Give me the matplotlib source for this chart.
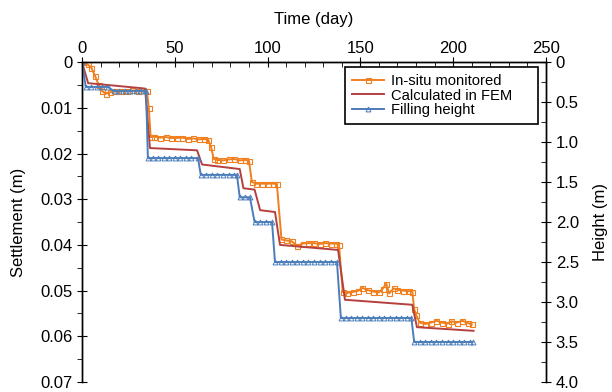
import matplotlib.pyplot as plt
from matplotlib.ticker import MultipleLocator, FixedLocator, FixedFormatter

plt.rcParams['font.family'] = ['Liberation Sans', 'DejaVu Sans']

# in-situ monitored settlement (m)
obs_day = [0, 3, 5, 7, 9, 11, 13, 15, 18, 21, 24, 27, 30, 33, 35, 36, 37, 39, 42, 45, 48, 51, 54, 57,
           60, 63, 66, 68, 69.5, 71, 73, 76, 79, 82, 85, 88, 90, 91.5, 94, 97, 100, 103, 105, 107.5,
           110, 113, 116, 119, 122, 125, 128, 131, 134, 137, 138.5, 140.5, 143, 146, 149, 151, 154,
           157, 160, 162, 164, 165.5, 168, 170, 173, 176, 178, 179, 180, 182, 185, 188, 191, 194,
           197, 199, 202, 205, 208, 210]
obs_set = [0, 0.0005, 0.0012, 0.003, 0.005, 0.0064, 0.0069, 0.0066, 0.0064, 0.0064, 0.0063, 0.0062,
           0.0063, 0.0062, 0.0064, 0.0100, 0.0164, 0.0163, 0.0165, 0.0164, 0.0166, 0.0166, 0.0165,
           0.0168, 0.0167, 0.0169, 0.0168, 0.0170, 0.0185, 0.0212, 0.0214, 0.0215, 0.0213, 0.0212,
           0.0215, 0.0214, 0.0216, 0.0262, 0.0266, 0.0266, 0.0266, 0.0266, 0.0266, 0.0388, 0.0390,
           0.0392, 0.0402, 0.0397, 0.0396, 0.0396, 0.0398, 0.0396, 0.0397, 0.0397, 0.0400, 0.0503,
           0.0505, 0.0503, 0.0500, 0.0494, 0.0499, 0.0502, 0.0504, 0.0496, 0.0485, 0.0506, 0.0495,
           0.0498, 0.0500, 0.0501, 0.0502, 0.0540, 0.0553, 0.0570, 0.0573, 0.0570, 0.0566, 0.0570,
           0.0572, 0.0567, 0.0570, 0.0566, 0.0571, 0.0574]

# FEM settlement (m)
fem_day = [0, 3.3, 32, 34, 36.6, 62, 64.7, 85, 87, 93, 96, 104, 106.7, 138, 141.7, 178, 180.5, 211]
fem_set = [0, 0.0046, 0.0057, 0.0058, 0.0188, 0.0193, 0.0224, 0.0234, 0.0276, 0.0279, 0.0324,
           0.0328, 0.0400, 0.0411, 0.0520, 0.0531, 0.0580, 0.0588]

# filling height (m)
fill_day = [0, 2, 5, 8, 11, 14, 17, 20, 23, 26, 29, 32, 34.5, 35.5, 38, 41, 44, 47, 50, 53, 56, 59,
            62.5, 64, 67, 70, 73, 76, 79, 82, 83.5, 85, 88, 90.5, 93, 96, 99, 102.4, 104, 107, 110,
            113, 116, 119, 122, 125, 128, 131, 134, 137.4, 139.5, 142, 145, 148, 151, 154, 157, 160,
            163, 166, 169, 172, 175, 177.5, 179, 182, 185, 188, 191, 194, 197, 200, 203, 206, 209, 210.5]
fill_h = [0, 0.31, 0.31, 0.31, 0.31, 0.31, 0.36, 0.36, 0.36, 0.36, 0.36, 0.36, 0.36, 1.2, 1.2, 1.2,
          1.2, 1.2, 1.2, 1.2, 1.2, 1.2, 1.2, 1.41, 1.41, 1.41, 1.41, 1.41, 1.41, 1.41, 1.41, 1.69,
          1.69, 1.69, 2.0, 2.0, 2.0, 2.0, 2.5, 2.5, 2.5, 2.5, 2.5, 2.5, 2.5, 2.5, 2.5, 2.5, 2.5, 2.5,
          3.2, 3.2, 3.2, 3.2, 3.2, 3.2, 3.2, 3.2, 3.2, 3.2, 3.2, 3.2, 3.2, 3.2, 3.5, 3.5, 3.5, 3.5,
          3.5, 3.5, 3.5, 3.5, 3.5, 3.5, 3.5, 3.5]

c_obs = '#F07F1E'
c_fem = '#B5403F'
c_fill = '#4B7DBB'

fig = plt.figure(figsize=(6.12, 3.92), dpi=100)
ax = fig.add_axes([0.134, 0.0255, 0.758, 0.816])
ax2 = ax.twinx()

l1, = ax.plot(obs_day, obs_set, '-', color=c_obs, lw=1.4, marker='s', ms=3.6, mfc='none', mew=0.8,
              label='In-situ monitored')
l2, = ax.plot(fem_day, fem_set, '-', color=c_fem, lw=1.4, label='Calculated in FEM')
l3, = ax2.plot(fill_day, fill_h, '-', color=c_fill, lw=1.4, marker='^', ms=3.5, mfc='none', mew=0.7,
               label='Filling height')

ax.set_xlim(0, 250)
ax.set_ylim(0.07, 0)
ax2.set_ylim(4.0, 0)

for a in (ax, ax2):
    a.spines['bottom'].set_visible(False)
    for s in ('top', 'left', 'right'):
        a.spines[s].set_linewidth(1.0)

ax.xaxis.tick_top()
ax.xaxis.set_label_position('top')
ax.xaxis.set_major_locator(MultipleLocator(50))
ax.xaxis.set_minor_locator(MultipleLocator(10))
ax.tick_params(axis='x', which='major', direction='inout', length=7, labelsize=12, pad=1)
ax.tick_params(axis='x', which='minor', direction='in', length=3.5)
ax.set_xlabel('Time (day)', fontsize=12, labelpad=12)

ax.yaxis.set_major_locator(FixedLocator([0, 0.01, 0.02, 0.03, 0.04, 0.05, 0.06, 0.07]))
ax.yaxis.set_major_formatter(FixedFormatter(['0', '0.01', '0.02', '0.03', '0.04', '0.05', '0.06', '0.07']))
ax.yaxis.set_minor_locator(MultipleLocator(0.005))
ax.tick_params(axis='y', which='major', direction='inout', length=7, labelsize=12)
ax.tick_params(axis='y', which='minor', direction='out', length=3.5)
ax.set_ylabel('Settlement (m)', fontsize=12, labelpad=10)

ax2.yaxis.set_major_locator(FixedLocator([0, 0.5, 1.0, 1.5, 2.0, 2.5, 3.0, 3.5, 4.0]))
ax2.yaxis.set_major_formatter(FixedFormatter(['0', '0.5', '1.0', '1.5', '2.0', '2.5', '3.0', '3.5', '4.0']))
ax2.yaxis.set_minor_locator(MultipleLocator(0.25))
ax2.tick_params(axis='y', which='major', direction='inout', length=7, labelsize=12)
ax2.tick_params(axis='y', which='minor', direction='in', length=3.5)
ax2.set_ylabel('Height (m)', fontsize=12, labelpad=10)

leg = ax.legend(handles=[l1, l2, l3], loc='upper left', bbox_to_anchor=(0.567, 0.80, 0.416, 0.184),
                mode='expand', borderaxespad=0, fontsize=10.6, fancybox=False, edgecolor='k',
                framealpha=1, handlelength=2.2, borderpad=0.45, labelspacing=0.05, handletextpad=0.5)
leg.get_frame().set_linewidth(1.2)
leg.set_zorder(5)

plt.savefig('out.png', dpi=100)
